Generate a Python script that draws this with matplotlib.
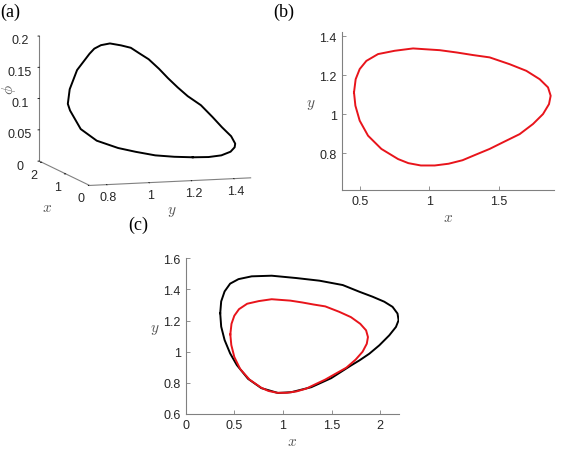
import numpy as np
import matplotlib
matplotlib.use("Agg")
import matplotlib.pyplot as plt

plt.rcParams['font.family'] = ['Liberation Sans', 'DejaVu Sans']
plt.rcParams['mathtext.fontset'] = 'cm'

# red closed orbit (panels b and c)
red_x = [0.459, 0.471, 0.500, 0.548, 0.632, 0.752, 0.884, 0.968, 1.076, 1.200, 1.315, 1.435,
         1.579, 1.699, 1.795, 1.855, 1.874, 1.862, 1.819, 1.747, 1.651, 1.531, 1.435, 1.330,
         1.240, 1.140, 1.040, 0.940, 0.850, 0.776, 0.656, 0.560, 0.500, 0.469]
red_y = [1.111, 1.179, 1.231, 1.273, 1.308, 1.325, 1.337, 1.333, 1.328, 1.316, 1.303, 1.291,
         1.256, 1.222, 1.179, 1.137, 1.094, 1.051, 1.000, 0.949, 0.897, 0.855, 0.821, 0.790,
         0.763, 0.745, 0.736, 0.736, 0.748, 0.769, 0.821, 0.889, 0.966, 1.043]

# black closed orbit (panel a in 3D, panel c projected on x-y)
blk_x = [0.355, 0.365, 0.400, 0.457, 0.543, 0.679, 0.884, 1.137, 1.376, 1.615, 1.786, 1.922,
         2.042, 2.127, 2.178, 2.189, 2.162, 2.093, 1.991, 1.888, 1.786, 1.701, 1.496, 1.291,
         1.086, 0.949, 0.778, 0.641, 0.526, 0.457, 0.400, 0.365]
blk_y = [1.247, 1.323, 1.387, 1.437, 1.466, 1.484, 1.488, 1.473, 1.456, 1.428, 1.385, 1.353,
         1.321, 1.288, 1.245, 1.202, 1.159, 1.105, 1.041, 0.987, 0.944, 0.912, 0.830, 0.772,
         0.740, 0.735, 0.766, 0.826, 0.914, 0.989, 1.075, 1.161]
blk_phi = [0.030, 0.029, 0.030, 0.034, 0.039, 0.042, 0.050, 0.060, 0.072, 0.087, 0.099, 0.111,
           0.124, 0.138, 0.153, 0.163, 0.173, 0.179, 0.185, 0.185, 0.182, 0.176, 0.155, 0.129,
           0.110, 0.102, 0.075, 0.058, 0.047, 0.041, 0.035, 0.032]

x_ticks_a = [0, 1, 2]
y_ticks_a = [0.8, 1, 1.2, 1.4]
z_ticks_a = [0, 0.05, 0.1, 0.15, 0.2]
x_ticks_b = [0.5, 1, 1.5]
y_ticks_b = [0.8, 1, 1.2, 1.4]
x_ticks_c = [0, 0.5, 1, 1.5, 2]
y_ticks_c = [0.6, 0.8, 1, 1.2, 1.4, 1.6]

axcol = '#808080'
txtcol = '#262626'
labcol = '#555555'


def closed(v):
    return np.append(v, v[0])


def fmt(v):
    return ('%g' % v)


def style2d(ax):
    for s in ['top', 'right']:
        ax.spines[s].set_visible(False)
    for s in ['left', 'bottom']:
        ax.spines[s].set_color(axcol)
        ax.spines[s].set_linewidth(0.8)
    ax.tick_params(direction='in', length=3, width=0.6, color=axcol, labelcolor=txtcol, labelsize=9)
    ax.set_xlabel('$x$', fontsize=11, color=labcol, labelpad=2)
    ax.set_ylabel('$y$', fontsize=11, color=labcol, rotation=0, labelpad=6)


fig = plt.figure(figsize=(5.81, 4.52), dpi=100)

# (a) 3D orbit
ax_a = fig.add_axes([-0.0566, 0.4634, 0.6, 0.58], projection='3d', proj_type='ortho')
ax_a.plot(closed(blk_x), closed(blk_y), closed(blk_phi), color='k', lw=1.4)
ax_a.set_xlim(0, 2.1)
ax_a.set_ylim(0.72, 1.48)
ax_a.set_zlim(0, 0.2)
ax_a.invert_xaxis()
ax_a.set_xticks(x_ticks_a)
ax_a.set_xticklabels([fmt(v) for v in x_ticks_a])
ax_a.set_yticks(y_ticks_a)
ax_a.set_yticklabels([fmt(v) for v in y_ticks_a])
ax_a.set_zticks(z_ticks_a)
ax_a.set_zticklabels([fmt(v) for v in z_ticks_a])
ax_a.view_init(elev=8.7, azim=-17.35)
ax_a.set_box_aspect((4, 4, 3))
ax_a.grid(False)
for axis in [ax_a.xaxis, ax_a.yaxis, ax_a.zaxis]:
    axis.set_pane_color((1, 1, 1, 0))
    axis.line.set_color(axcol)
    axis.line.set_linewidth(0.8)
    axis._axinfo['tick']['inward_factor'] = 0.1
    axis._axinfo['tick']['outward_factor'] = 0.0
    axis._axinfo['tick']['color'] = axcol
    axis._axinfo['tick']['linewidth'] = {True: 0.6, False: 0.5}
ax_a.zaxis.set_ticks_position('lower')
ax_a.zaxis.set_label_position('lower')
ax_a.tick_params(labelsize=9, labelcolor=txtcol)
ax_a.xaxis.set_tick_params(pad=-3)
ax_a.yaxis.set_tick_params(pad=-4)
ax_a.zaxis.set_tick_params(pad=1)
fig.text(47 / 581, 1 - 208 / 452, '$x$', fontsize=11, color=labcol, ha='center', va='center')
fig.text(172 / 581, 1 - 212 / 452, '$y$', fontsize=11, color=labcol, ha='center', va='center')
fig.text(9 / 581, 1 - 90 / 452, '$\\phi$', fontsize=11, color=labcol, ha='center', va='center',
         rotation=90)

# (b) red orbit
ax_b = fig.add_axes([0.588, 0.5774, 0.366, 0.349])
ax_b.plot(closed(red_x), closed(red_y), color='#e8141b', lw=1.4)
ax_b.set_xlim(0.37, 1.9)
ax_b.set_ylim(0.61, 1.42)
ax_b.set_xticks(x_ticks_b)
ax_b.set_xticklabels([fmt(v) for v in x_ticks_b])
ax_b.set_yticks(y_ticks_b)
ax_b.set_yticklabels([fmt(v) for v in y_ticks_b])
style2d(ax_b)

# (c) both orbits
ax_c = fig.add_axes([0.3196, 0.0819, 0.3666, 0.3445])
ax_c.plot(closed(blk_x), closed(blk_y), color='k', lw=1.4)
ax_c.plot(closed(red_x), closed(red_y), color='#e8141b', lw=1.4)
ax_c.set_xlim(0, 2.19)
ax_c.set_ylim(0.6, 1.6)
ax_c.set_xticks(x_ticks_c)
ax_c.set_xticklabels([fmt(v) for v in x_ticks_c])
ax_c.set_yticks(y_ticks_c)
ax_c.set_yticklabels([fmt(v) for v in y_ticks_c])
style2d(ax_c)

for lab, (px, py) in {'(a)': (0, 17), '(b)': (273, 17), '(c)': (128, 230)}.items():
    fig.text(px / 581, 1 - py / 452, lab, fontsize=13, family='Liberation Serif', color='k')

fig.savefig('out.png', dpi=100)
